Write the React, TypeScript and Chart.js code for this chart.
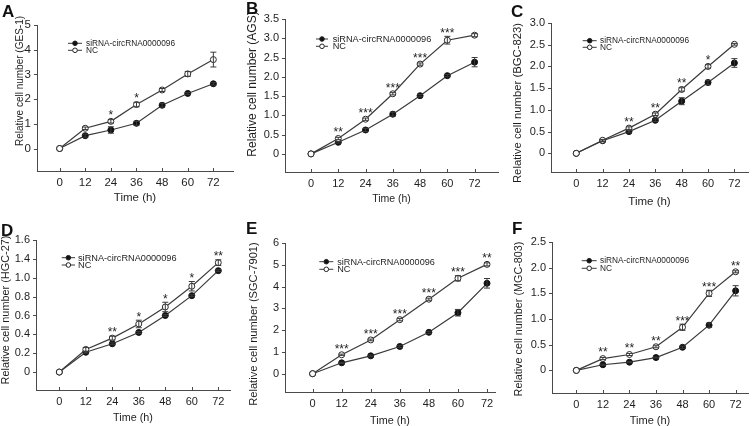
import React, { useEffect, useRef } from "react";
import { Chart, registerables } from "chart.js";

Chart.register(...registerables);

// ---------- data ----------
const hours = [0, 12, 24, 36, 48, 60, 72];
const seriesNames = ["siRNA-circRNA0000096", "NC"];
const xAxisTitle = "Time (h)";

// A: GES-1
const gesSi = [0, 0.52, 0.75, 1.02, 1.75, 2.23, 2.62];
const gesSiErr = [0, 0.06, 0.13, 0.08, 0.08, 0.04, 0.05];
const gesNc = [0, 0.82, 1.1, 1.78, 2.37, 3.02, 3.6];
const gesNcErr = [0, 0.05, 0.07, 0.09, 0.06, 0.1, 0.3];
const gesStars = ["", "", "*", "*", "", "", ""];
const gesTicks = [0, 1, 2, 3, 4, 5];
const gesTickLabels = ["0", "1", "2", "3", "4", "5"];

// B: AGS
const agsSi = [0, 0.3, 0.62, 1.03, 1.51, 2.03, 2.38];
const agsSiErr = [0, 0.02, 0.04, 0.05, 0.03, 0.03, 0.12];
const agsNc = [0, 0.4, 0.9, 1.56, 2.33, 2.95, 3.08];
const agsNcErr = [0, 0.03, 0.03, 0.03, 0.03, 0.1, 0.04];
const agsStars = ["", "**", "***", "***", "***", "***", ""];
const agsTicks = [0, 0.5, 1, 1.5, 2, 2.5, 3, 3.5];
const agsTickLabels = ["0", "0.5", "1.0", "1.5", "2.0", "2.5", "3.0", "3.5"];

// C: BGC-823
const bgcSi = [0, 0.29, 0.5, 0.76, 1.2, 1.63, 2.08];
const bgcSiErr = [0, 0.02, 0.03, 0.03, 0.08, 0.05, 0.1];
const bgcNc = [0, 0.3, 0.58, 0.9, 1.47, 2.0, 2.51];
const bgcNcErr = [0, 0.02, 0.03, 0.03, 0.04, 0.04, 0.02];
const bgcStars = ["", "", "**", "**", "**", "*", ""];
const bgcTicks = [0, 0.5, 1, 1.5, 2, 2.5, 3];
const bgcTickLabels = ["0", "0.5", "1.0", "1.5", "2.0", "2.5", "3.0"];

// D: HGC-27 (tick labels printed as in the original figure)
const hgcSi = [0, 0.21, 0.3, 0.42, 0.6, 0.81, 1.075];
const hgcSiErr = [0, 0.01, 0.01, 0.01, 0.01, 0.01, 0.01];
const hgcNc = [0, 0.24, 0.36, 0.51, 0.69, 0.91, 1.16];
const hgcNcErr = [0, 0.02, 0.02, 0.04, 0.05, 0.05, 0.03];
const hgcStars = ["", "", "**", "*", "*", "*", "**"];
const hgcTicks = [0, 0.2, 0.4, 0.6, 0.8, 1.0, 1.2, 1.4];
const hgcTickLabels = ["0", "0.2", "0.4", "0.6", "0.8", "1.0", "1.4", "1.6"];

// E: SGC-7901
const sgcSi = [0, 0.5, 0.82, 1.25, 1.9, 2.8, 4.15];
const sgcSiErr = [0, 0.03, 0.04, 0.05, 0.05, 0.15, 0.22];
const sgcNc = [0, 0.87, 1.55, 2.48, 3.42, 4.38, 5.02];
const sgcNcErr = [0, 0.03, 0.04, 0.05, 0.05, 0.12, 0.07];
const sgcStars = ["", "***", "***", "***", "***", "***", "**"];
const sgcTicks = [0, 1, 2, 3, 4, 5, 6];
const sgcTickLabels = ["0", "1", "2", "3", "4", "5", "6"];

// F: MGC-803
const mgcSi = [0, 0.11, 0.16, 0.25, 0.45, 0.88, 1.55];
const mgcSiErr = [0, 0.01, 0.01, 0.01, 0.02, 0.04, 0.1];
const mgcNc = [0, 0.23, 0.31, 0.46, 0.84, 1.5, 1.92];
const mgcNcErr = [0, 0.02, 0.02, 0.02, 0.06, 0.06, 0.02];
const mgcStars = ["", "**", "**", "**", "***", "***", "**"];
const mgcTicks = [0, 0.5, 1, 1.5, 2, 2.5];
const mgcTickLabels = ["0", "0.5", "1.0", "1.5", "2.0", "2.5"];

const FONT = "'Liberation Sans', Arial, Helvetica, sans-serif";

type Box = { x: number; y: number; w: number; h: number };
type Area = { l: number; t: number; r: number; b: number };
type PanelCfg = {
  letter: string;
  letterPos: { x: number; y: number };
  canvas: Box;
  area: Area;
  xRange: [number, number];
  yRange: [number, number];
  yTitle: string;
  yTitlePos: { x: number; y: number; fs: number };
  xTitlePos: { y: number; fs: number };
  legend: { x1: number; x2: number; tx: number; y1: number; y2: number; fs: number };
  tickFs: number;
  si: number[];
  siErr: number[];
  nc: number[];
  ncErr: number[];
  stars: string[];
  ticks: number[];
  tickLabels: string[];
};

const panels: PanelCfg[] = [
  {
    letter: "A", letterPos: { x: 2, y: 3 },
    canvas: { x: 0, y: 0, w: 250, h: 213 },
    area: { l: 37, t: 25, r: 233, b: 171 },
    xRange: [-10.6, 81.2], yRange: [-0.91, 5],
    yTitle: "Relative cell number (GES-1)", yTitlePos: { x: 20, y: 81, fs: 10 },
    xTitlePos: { y: 198, fs: 11.5 },
    legend: { x1: 68, x2: 82, tx: 86, y1: 43.3, y2: 50.3, fs: 8.3 },
    tickFs: 11.5,
    si: gesSi, siErr: gesSiErr, nc: gesNc, ncErr: gesNcErr, stars: gesStars,
    ticks: gesTicks, tickLabels: gesTickLabels,
  },
  {
    letter: "B", letterPos: { x: 246, y: 0 },
    canvas: { x: 244, y: 0, w: 260, h: 213 },
    area: { l: 285, t: 19, r: 498, b: 172 },
    xRange: [-11.45, 82.3], yRange: [-0.47, 3.5],
    yTitle: "Relative cell number (AGS)", yTitlePos: { x: 252.5, y: 84, fs: 12 },
    xTitlePos: { y: 199.3, fs: 10.5 },
    legend: { x1: 316, x2: 328, tx: 332.7, y1: 39, y2: 46.3, fs: 9.2 },
    tickFs: 11,
    si: agsSi, siErr: agsSiErr, nc: agsNc, ncErr: agsNcErr, stars: agsStars,
    ticks: agsTicks, tickLabels: agsTickLabels,
  },
  {
    letter: "C", letterPos: { x: 511, y: 3 },
    canvas: { x: 500, y: 0, w: 254, h: 213 },
    area: { l: 551, t: 23, r: 748, b: 172 },
    xRange: [-11.5, 78.2], yRange: [-0.43, 3],
    yTitle: "Relative cell number (BGC-823)", yTitlePos: { x: 518, y: 103, fs: 11.3 },
    xTitlePos: { y: 201.7, fs: 11.5 },
    legend: { x1: 582.7, x2: 596.7, tx: 600, y1: 40.7, y2: 47.3, fs: 8.3 },
    tickFs: 11,
    si: bgcSi, siErr: bgcSiErr, nc: bgcNc, ncErr: bgcNcErr, stars: bgcStars,
    ticks: bgcTicks, tickLabels: bgcTickLabels,
  },
  {
    letter: "D", letterPos: { x: 1, y: 222 },
    canvas: { x: 0, y: 213, w: 250, h: 213 },
    area: { l: 36, t: 240, r: 230, b: 390 },
    xRange: [-10.55, 77.3], yRange: [-0.19, 1.4],
    yTitle: "Relative cell number (HGC-27)", yTitlePos: { x: 6, y: 310, fs: 10.9 },
    xTitlePos: { y: 418, fs: 10.8 },
    legend: { x1: 61.7, x2: 75, tx: 78, y1: 257.7, y2: 265, fs: 9.2 },
    tickFs: 11,
    si: hgcSi, siErr: hgcSiErr, nc: hgcNc, ncErr: hgcNcErr, stars: hgcStars,
    ticks: hgcTicks, tickLabels: hgcTickLabels,
  },
  {
    letter: "E", letterPos: { x: 246, y: 220 },
    canvas: { x: 244, y: 213, w: 260, h: 213 },
    area: { l: 285, t: 243, r: 495, b: 392 },
    xRange: [-11.4, 75.3], yRange: [-0.84, 6],
    yTitle: "Relative cell number (SGC-7901)", yTitlePos: { x: 254, y: 324, fs: 11.1 },
    xTitlePos: { y: 420.7, fs: 10.8 },
    legend: { x1: 319.3, x2: 333.3, tx: 337.3, y1: 261.7, y2: 269.3, fs: 9.1 },
    tickFs: 11,
    si: sgcSi, siErr: sgcSiErr, nc: sgcNc, ncErr: sgcNcErr, stars: sgcStars,
    ticks: sgcTicks, tickLabels: sgcTickLabels,
  },
  {
    letter: "F", letterPos: { x: 512, y: 220 },
    canvas: { x: 500, y: 213, w: 254, h: 213 },
    area: { l: 552, t: 242, r: 748, b: 393 },
    xRange: [-11, 77.6], yRange: [-0.44, 2.5],
    yTitle: "Relative cell number (MGC-803)", yTitlePos: { x: 519, y: 319, fs: 10.8 },
    xTitlePos: { y: 421, fs: 11 },
    legend: { x1: 581.7, x2: 596.7, tx: 600, y1: 260.7, y2: 268.3, fs: 8.3 },
    tickFs: 11,
    si: mgcSi, siErr: mgcSiErr, nc: mgcNc, ncErr: mgcNcErr, stars: mgcStars,
    ticks: mgcTicks, tickLabels: mgcTickLabels,
  },
];

const LINE = "#3a3a3a";
const TEXT = "#1e1e1e";
const AXIS = "#4a4a4a";

function Panel({ cfg }: { cfg: PanelCfg }) {
  const ref = useRef<HTMLCanvasElement>(null);
  useEffect(() => {
    const cv = cfg.canvas;
    const A = cfg.area;
    const ox = cv.x, oy = cv.y;

    const overlay = {
      id: "overlay" + cfg.letter,
      afterDraw(chart: any) {
        const ctx = chart.ctx as CanvasRenderingContext2D;
        const xs = chart.scales.x;
        const ys = chart.scales.y;
        const ca = chart.chartArea;
        ctx.save();
        // tick marks
        ctx.strokeStyle = AXIS;
        ctx.lineWidth = 1;
        ctx.beginPath();
        cfg.ticks.forEach((v) => {
          const py = Math.round(ys.getPixelForValue(v)) + 0.5;
          ctx.moveTo(ca.left - 3, py);
          ctx.lineTo(ca.left, py);
        });
        hours.forEach((h) => {
          const px = Math.round(xs.getPixelForValue(h)) + 0.5;
          ctx.moveTo(px, ca.bottom);
          ctx.lineTo(px, ca.bottom - 3);
        });
        ctx.stroke();

        // error bars
        const drawErr = (vals: number[], errs: number[]) => {
          ctx.strokeStyle = LINE;
          ctx.lineWidth = 1;
          ctx.beginPath();
          vals.forEach((v, i) => {
            const e = errs[i];
            if (!e) return;
            const px = xs.getPixelForValue(hours[i]);
            const t = ys.getPixelForValue(v + e);
            const b = ys.getPixelForValue(v - e);
            ctx.moveTo(px, t);
            ctx.lineTo(px, b);
            ctx.moveTo(px - 3, t);
            ctx.lineTo(px + 3, t);
            ctx.moveTo(px - 3, b);
            ctx.lineTo(px + 3, b);
          });
          ctx.stroke();
        };
        drawErr(cfg.si, cfg.siErr);
        drawErr(cfg.nc, cfg.ncErr);

        // significance stars
        ctx.fillStyle = TEXT;
        const sfs = 12;
        ctx.font = `${sfs}px ${FONT}`;
        ctx.textAlign = "center";
        ctx.textBaseline = "alphabetic";
        cfg.stars.forEach((s, i) => {
          if (!s) return;
          const px = xs.getPixelForValue(hours[i]);
          const top = Math.max(cfg.nc[i] + cfg.ncErr[i], cfg.si[i] + cfg.siErr[i]);
          const c = Math.min(ys.getPixelForValue(top) - 6, ys.getPixelForValue(cfg.nc[i]) - 9);
          ctx.fillText(s, px, c + 0.57 * sfs);
        });

        // legend
        const L = cfg.legend;
        const rows = [
          { y: L.y1 - oy, fill: "#111" },
          { y: L.y2 - oy, fill: "#fff" },
        ];
        rows.forEach((r, k) => {
          ctx.strokeStyle = LINE;
          ctx.lineWidth = 1;
          ctx.beginPath();
          ctx.moveTo(L.x1 - ox, r.y);
          ctx.lineTo(L.x2 - ox, r.y);
          ctx.stroke();
          ctx.beginPath();
          ctx.arc((L.x1 + L.x2) / 2 - ox, r.y, 2.3, 0, Math.PI * 2);
          ctx.fillStyle = r.fill;
          ctx.fill();
          ctx.strokeStyle = "#222";
          ctx.stroke();
          ctx.fillStyle = TEXT;
          ctx.font = `${L.fs}px ${FONT}`;
          ctx.textAlign = "left";
          ctx.textBaseline = "middle";
          ctx.fillText(seriesNames[k], L.tx - ox, r.y + 0.5);
        });

        // axis titles
        ctx.fillStyle = TEXT;
        ctx.textAlign = "center";
        ctx.textBaseline = "middle";
        ctx.font = `${cfg.xTitlePos.fs}px ${FONT}`;
        ctx.fillText(xAxisTitle, (ca.left + ca.right) / 2, cfg.xTitlePos.y - oy);
        ctx.save();
        ctx.translate(cfg.yTitlePos.x - ox, cfg.yTitlePos.y - oy);
        ctx.rotate(-Math.PI / 2);
        ctx.font = `${cfg.yTitlePos.fs}px ${FONT}`;
        ctx.fillText(cfg.yTitle, 0, 0);
        ctx.restore();
        ctx.restore();
      },
    };

    const chart = new Chart(ref.current as HTMLCanvasElement, {
      type: "line",
      data: {
        datasets: [
          {
            label: seriesNames[1],
            data: hours.map((h, i) => ({ x: h, y: cfg.nc[i] })),
            borderColor: LINE,
            borderWidth: 1.2,
            pointRadius: 3,
            pointBackgroundColor: "#fff",
            pointBorderColor: "#2a2a2a",
            pointBorderWidth: 1,
            tension: 0,
          },
          {
            label: seriesNames[0],
            data: hours.map((h, i) => ({ x: h, y: cfg.si[i] })),
            borderColor: LINE,
            borderWidth: 1.2,
            pointRadius: 3,
            pointBackgroundColor: "#111",
            pointBorderColor: "#111",
            pointBorderWidth: 1,
            tension: 0,
          },
        ],
      },
      options: {
        animation: false,
        responsive: false,
        devicePixelRatio: 1,
        layout: {
          padding: {
            top: A.t - cv.y,
            right: cv.x + cv.w - A.r,
            left: 0,
            bottom: 0,
          },
        },
        plugins: {
          legend: { display: false },
          tooltip: { enabled: false },
          title: { display: false },
        },
        scales: {
          x: {
            type: "linear",
            min: cfg.xRange[0],
            max: cfg.xRange[1],
            afterBuildTicks: (s: any) => {
              s.ticks = hours.map((v) => ({ value: v }));
            },
            afterFit: (s: any) => {
              s.height = cv.y + cv.h - A.b;
            },
            grid: { display: false, drawTicks: false },
            border: { display: true, color: AXIS, width: 1 },
            ticks: {
              color: TEXT,
              font: { family: FONT, size: cfg.tickFs },
              padding: 5,
              maxRotation: 0,
              autoSkip: false,
              callback: (v: any) => String(v),
            },
          },
          y: {
            type: "linear",
            min: cfg.yRange[0],
            max: cfg.yRange[1],
            afterBuildTicks: (s: any) => {
              s.ticks = cfg.ticks.map((v) => ({ value: v }));
            },
            afterFit: (s: any) => {
              s.width = A.l - cv.x;
            },
            grid: { display: false, drawTicks: false },
            border: { display: true, color: AXIS, width: 1 },
            ticks: {
              color: TEXT,
              font: { family: FONT, size: cfg.tickFs },
              padding: 6,
              autoSkip: false,
              callback: (v: any) => {
                const i = cfg.ticks.findIndex((t) => Math.abs(t - v) < 1e-6);
                return i >= 0 ? cfg.tickLabels[i] : "";
              },
            },
          },
        },
      } as any,
      plugins: [overlay],
    });
    return () => chart.destroy();
  }, [cfg]);

  return (
    <>
      <canvas
        ref={ref}
        width={cfg.canvas.w}
        height={cfg.canvas.h}
        style={{
          position: "absolute",
          left: cfg.canvas.x,
          top: cfg.canvas.y,
          width: cfg.canvas.w,
          height: cfg.canvas.h,
        }}
      />
      <div
        style={{
          position: "absolute",
          left: cfg.letterPos.x,
          top: cfg.letterPos.y,
          fontFamily: FONT,
          fontWeight: "bold",
          fontSize: 17,
          lineHeight: "17px",
          color: "#111",
        }}
      >
        {cfg.letter}
      </div>
    </>
  );
}

export default function App() {
  return (
    <div
      style={{
        position: "absolute",
        left: 0,
        top: 0,
        width: 754,
        height: 426,
        background: "#fff",
        overflow: "hidden",
      }}
    >
      {panels.map((p) => (
        <Panel key={p.letter} cfg={p} />
      ))}
    </div>
  );
}
